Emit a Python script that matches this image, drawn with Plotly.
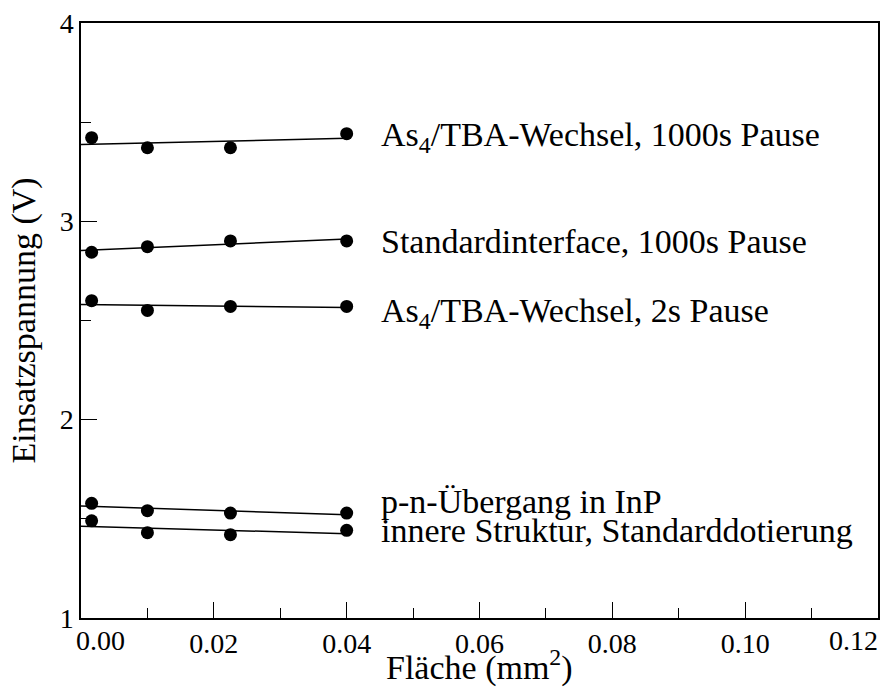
import numpy as np
import plotly.graph_objects as go

# Diode areas (mm^2): squares of 40, 100, 150, 200 µm edge length
flaeche = [0.0016, 0.01, 0.0225, 0.04]

# Onset voltages (V) per sample type
as4_tba_1000s = [3.422, 3.371, 3.371, 3.442]
standard_1000s = [2.844, 2.872, 2.901, 2.901]
as4_tba_2s = [2.600, 2.551, 2.571, 2.571]
pn_inp = [1.578, 1.541, 1.529, 1.529]
innere_struktur = [1.490, 1.430, 1.420, 1.442]

serien = [as4_tba_1000s, standard_1000s, as4_tba_2s, pn_inp, innere_struktur]

beschriftungen = [
    "As<sub>4</sub>/TBA-Wechsel, 1000s Pause",
    "Standardinterface, 1000s Pause",
    "As<sub>4</sub>/TBA-Wechsel, 2s Pause",
    "p-n-Übergang in InP",
    "innere Struktur, Standarddotierung",
]
beschriftung_y = [3.425, 2.896, 2.538, 1.587, 1.441]

x_ticks = [0.0, 0.02, 0.04, 0.06, 0.08, 0.10, 0.12]
x_ticktext = ["", "0.02", "0.04", "0.06", "0.08", "0.10", ""]
y_ticks = [1, 2, 3, 4]

x_titel = "Fläche (mm<sup>2</sup>)"
y_titel = "Einsatzspannung (V)"

FONT = "Liberation Serif"
TICK_SIZE = 28
TEXT_SIZE = 34

fig = go.Figure()

# least-squares line through each series, drawn across 0 ... 0.04 mm^2
x_fit = np.array([0.0, 0.04])
for werte in serien:
    m, b = np.polyfit(flaeche, werte, 1)
    fig.add_trace(go.Scatter(
        x=x_fit, y=m * x_fit + b, mode="lines",
        line=dict(color="black", width=1.5), hoverinfo="skip",
    ))
    fig.add_trace(go.Scatter(
        x=flaeche, y=werte, mode="markers",
        marker=dict(color="black", size=13, line=dict(width=0)),
    ))

for text, yv in zip(beschriftungen, beschriftung_y):
    fig.add_annotation(
        x=0.0448, y=yv, text=text, showarrow=False,
        xanchor="left", yanchor="middle",
        font=dict(family=FONT, size=TEXT_SIZE, color="black"),
    )

# outer x tick labels are pulled inwards at both corners
fig.add_annotation(
    x=0.0, y=0, xref="x", yref="paper", text="0.00", showarrow=False,
    xanchor="left", yanchor="top", xshift=-7, yshift=-5,
    font=dict(family=FONT, size=TICK_SIZE, color="black"),
)
fig.add_annotation(
    x=0.12, y=0, xref="x", yref="paper", text="0.12", showarrow=False,
    xanchor="right", yanchor="top", xshift=2, yshift=-5,
    font=dict(family=FONT, size=TICK_SIZE, color="black"),
)

# axis titles
fig.add_annotation(
    x=0.5, y=0, xref="paper", yref="paper", text=x_titel, showarrow=False,
    xanchor="center", yanchor="bottom", yshift=-71,
    font=dict(family=FONT, size=TEXT_SIZE, color="black"),
)
fig.add_annotation(
    x=0, y=0.5, xref="paper", yref="paper", text=y_titel, showarrow=False,
    textangle=-90, xanchor="center", yanchor="middle", xshift=-58,
    font=dict(family=FONT, size=TEXT_SIZE, color="black"),
)

axis_common = dict(
    showgrid=False, zeroline=False, showline=True, linecolor="black",
    linewidth=1.5, mirror=True, ticks="inside", ticklen=16, tickwidth=1,
    tickcolor="black", tickfont=dict(family=FONT, size=TICK_SIZE, color="black"),
)

fig.update_xaxes(
    range=[0, 0.12], tickvals=x_ticks, ticktext=x_ticktext,
    minor=dict(tickvals=[0.01, 0.03, 0.05, 0.07, 0.09, 0.11],
               ticks="inside", ticklen=10, tickwidth=1, tickcolor="black"),
    **axis_common,
)
fig.update_yaxes(
    range=[1, 4], tickvals=y_ticks,
    minor=dict(tickvals=[1.5, 2.5, 3.5],
               ticks="inside", ticklen=10, tickwidth=1, tickcolor="black"),
    **axis_common,
)

fig.update_layout(
    width=888, height=695,
    margin=dict(l=81, r=8, t=23, b=77),
    showlegend=False,
    font=dict(family=FONT, size=TICK_SIZE, color="black"),
    plot_bgcolor="white", paper_bgcolor="white",
)

fig.write_html("out.html")
